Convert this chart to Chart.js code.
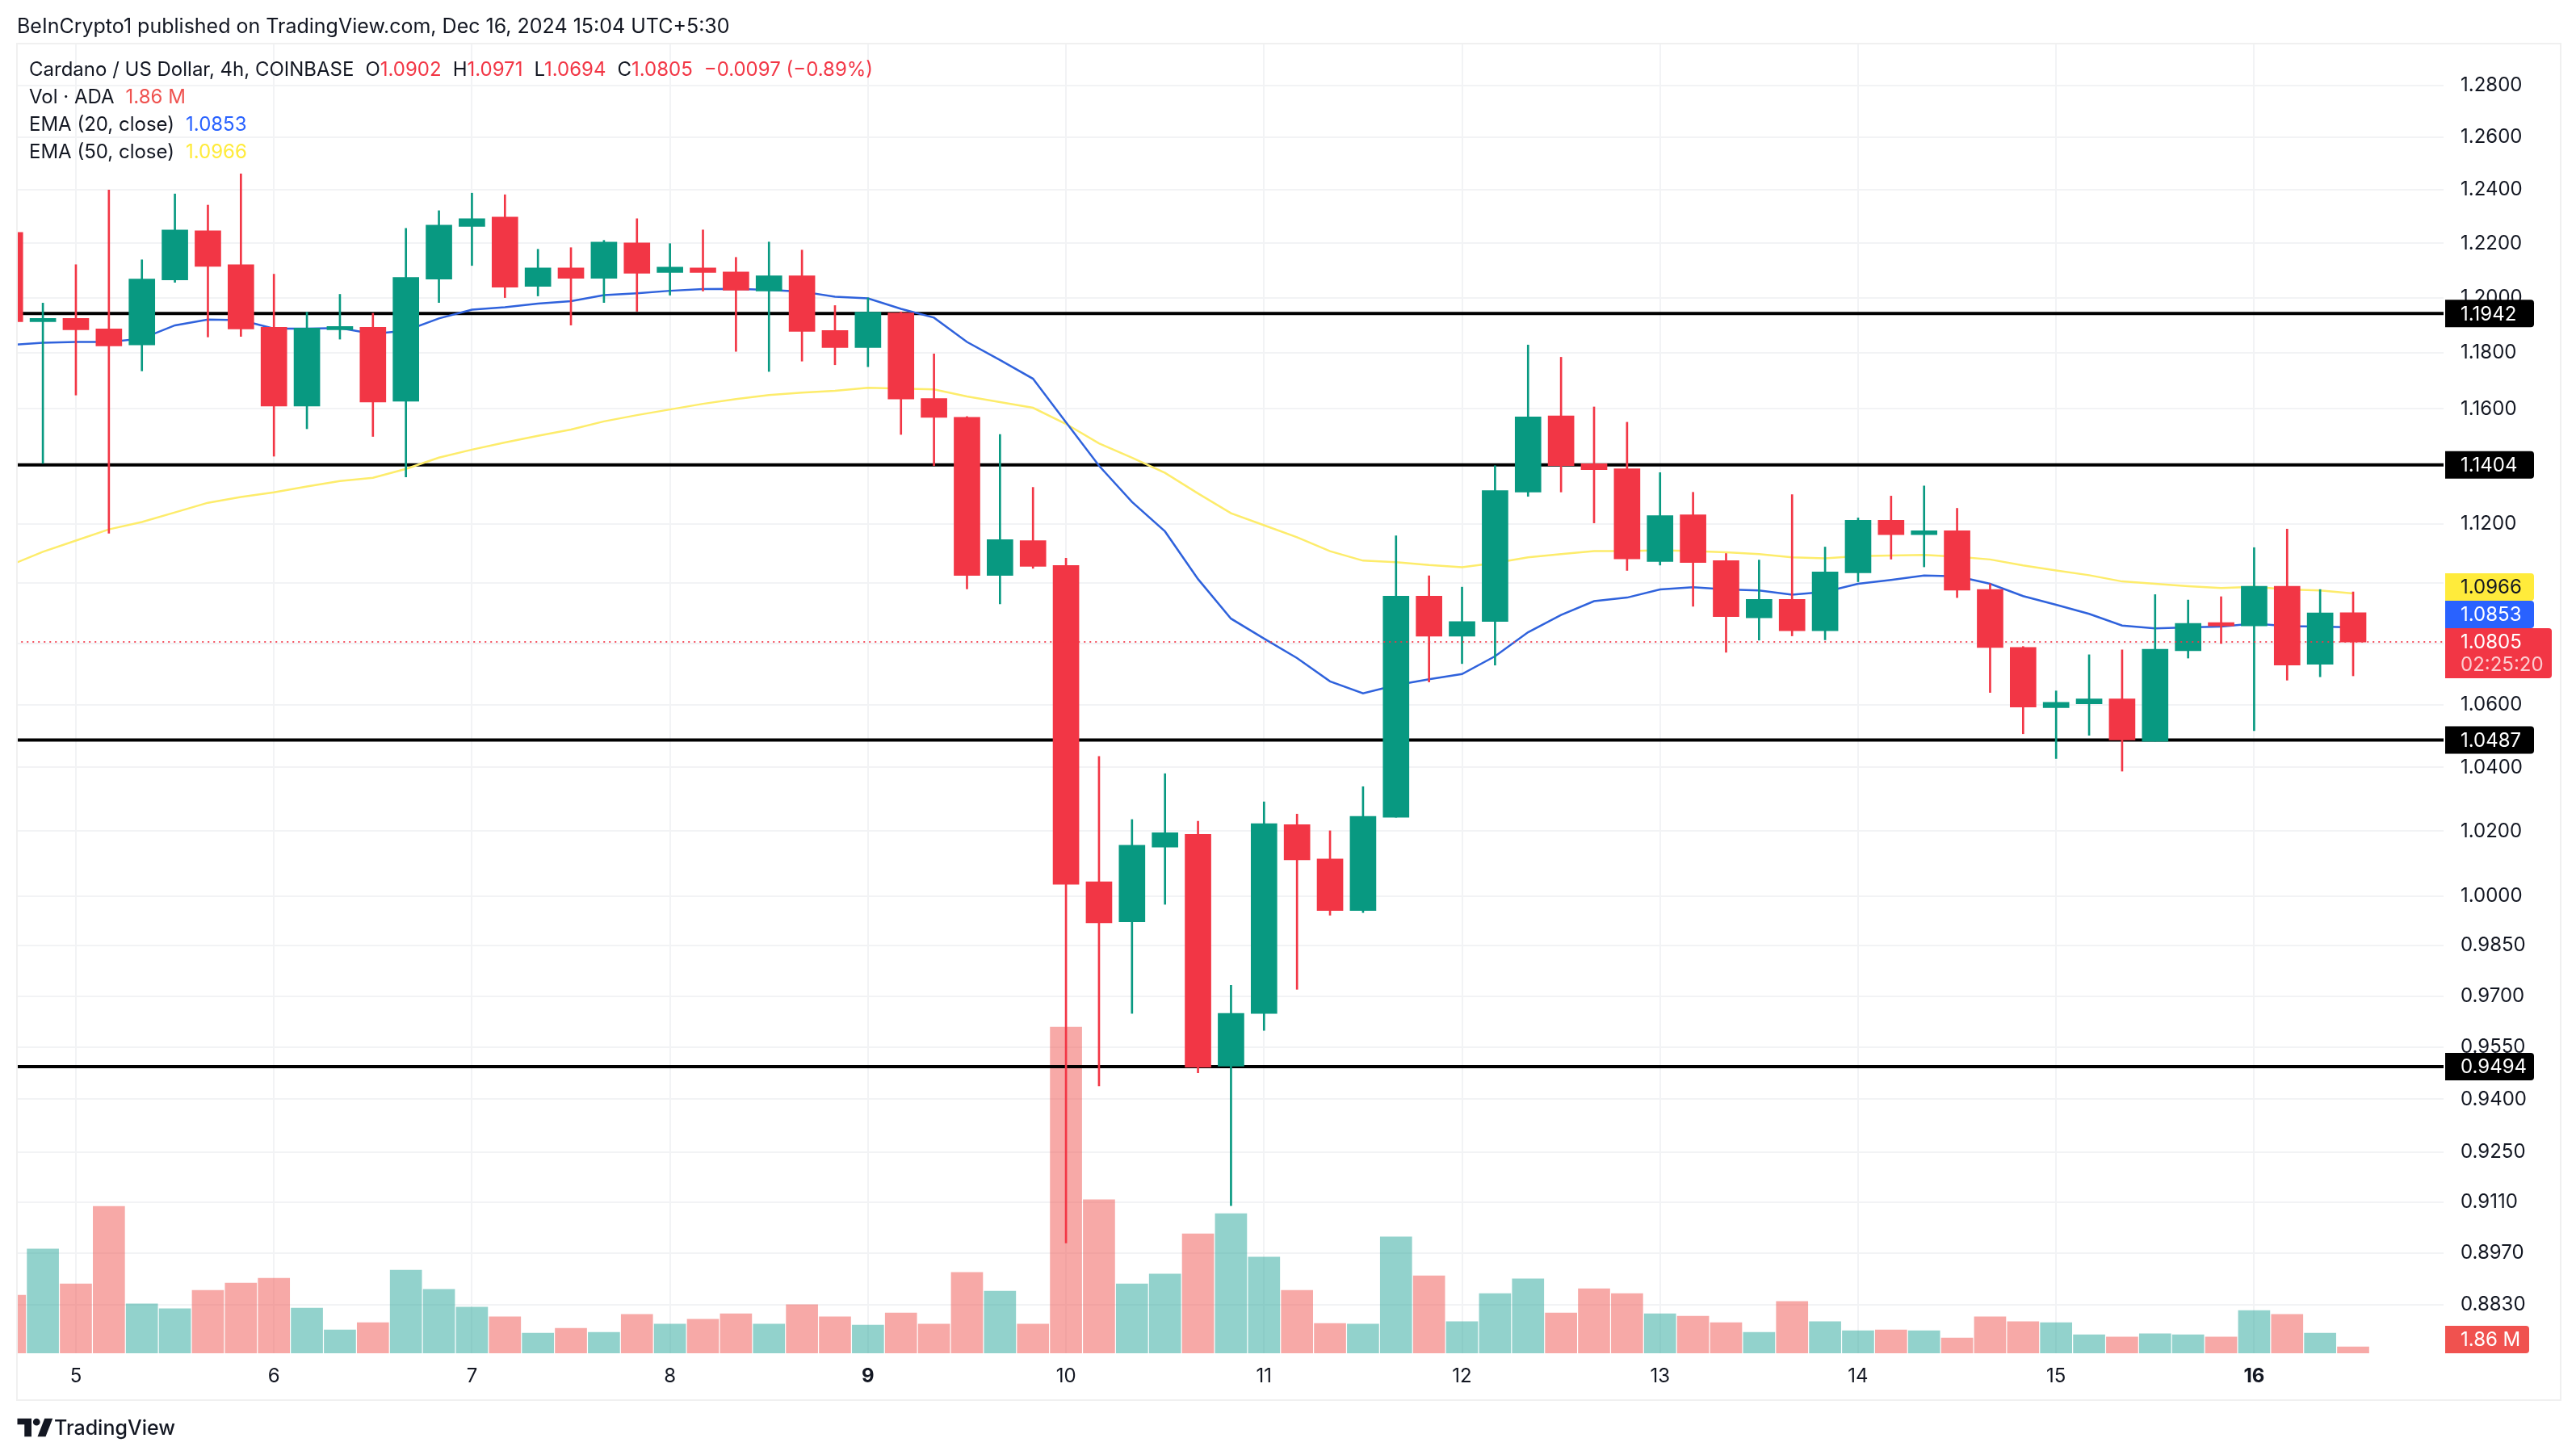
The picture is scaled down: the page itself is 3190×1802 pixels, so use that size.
<!DOCTYPE html>
<html>
<head>
<meta charset="utf-8">
<title>Cardano / US Dollar</title>
<script src="https://cdn.jsdelivr.net/npm/chart.js@4"></script>
<style>
  html, body { margin: 0; padding: 0; background: #fff; }
  body { width: 3190px; height: 1802px; position: relative; overflow: hidden; font-family: Inter, sans-serif; color: #131722; }
  canvas { position: absolute; left: 0; top: 0; }
  .frame { position: absolute; left: 20px; top: 53px; width: 3148px; height: 1678px; border: 2px solid #f0f0f0; pointer-events: none; }
  .line { position: absolute; white-space: nowrap; font-size: 24px; line-height: 34px; }
  .line span { margin-left: 14px; }
  .line span.tight { margin-left: 0; }
  .red { color: #f23645; }
  .vol { color: #ef5350; }
  .blue { color: #2962ff; }
  .yellow { color: #ffeb3b; }
  .logo { position: absolute; left: 21px; top: 1753px; }
</style>
</head>
<body>
<canvas id="chart" width="3190" height="1802"></canvas>
<div class="frame"></div>
<div class="line" style="left:21px;top:15px;font-size:25px">BeInCrypto1 published on TradingView.com, Dec 16, 2024 15:04 UTC+5:30</div>
<div class="line" style="left:36px;top:69px">Cardano / US Dollar, 4h, COINBASE<span>O</span><span class="red tight">1.0902</span><span>H</span><span class="red tight">1.0971</span><span>L</span><span class="red tight">1.0694</span><span>C</span><span class="red tight">1.0805</span><span class="red">−0.0097 (−0.89%)</span></div>
<div class="line" style="left:36px;top:103px">Vol · ADA<span class="vol">1.86 M</span></div>
<div class="line" style="left:36px;top:137px">EMA (20, close)<span class="blue">1.0853</span></div>
<div class="line" style="left:36px;top:171px">EMA (50, close)<span class="yellow">1.0966</span></div>
<svg class="logo" width="46" height="30" viewBox="0 0 36 24"><path fill="#131722" d="M14 3H0v6h7v12h7V3Zm14 18h-8l7-18h8l-7 18Zm-9-11a3.5 3.5 0 1 0 0-7 3.5 3.5 0 0 0 0 7Z"/></svg>
<div class="line" style="left:67px;top:1751px;font-size:25px;font-weight:500">TradingView</div>
<script>
// candles run from two bars before Dec 5 up to the open one, 6 bars a day
const firstCandle = -2
const dayLabels = ["5", "6", "7", "8", "9", "10", "11", "12", "13", "14", "15", "16"]
const boldDays = ["9", "16"]
const barsPerDay = 6

const priceTicks = [1.28, 1.26, 1.24, 1.22, 1.2, 1.18, 1.16, 1.14, 1.12, 1.1, 1.08, 1.06, 1.04, 1.02, 1.0, 0.985, 0.97, 0.955, 0.94, 0.925, 0.911, 0.897, 0.883]
// these sit under a price tag in the original
const hiddenTicks = [1.14, 1.1, 1.08]

const opens = [1.2241, 1.1912, 1.1924, 1.1886, 1.1828, 1.2065, 1.2247, 1.2121, 1.1892, 1.161, 1.1883, 1.1892, 1.1627, 1.2068, 1.2263, 1.2298, 1.2041, 1.2109, 1.2071, 1.2202, 1.2092, 1.2109, 1.2094, 1.2024, 1.208, 1.188, 1.1819, 1.1944, 1.1637, 1.157, 1.1026, 1.1144, 1.106, 1.0044, 0.9922, 1.015, 1.019, 0.9495, 0.9649, 1.022, 1.0114, 0.9956, 1.0243, 1.0957, 1.0824, 1.0873, 1.131, 1.1575, 1.1408, 1.139, 1.1073, 1.1232, 1.1076, 1.0885, 1.0946, 1.0842, 1.1035, 1.1213, 1.1164, 1.1177, 1.0979, 1.0787, 1.0591, 1.0603, 1.0619, 1.0483, 1.0776, 1.0869, 1.0858, 1.099, 1.0732, 1.0902]
const highs = [1.2241, 1.198, 1.2121, 1.24, 1.2139, 1.2385, 1.2343, 1.2461, 1.2086, 1.1947, 1.2012, 1.1943, 1.2256, 1.2322, 1.2388, 1.2382, 1.2178, 1.2184, 1.2211, 1.2292, 1.2199, 1.225, 1.2148, 1.2205, 1.2175, 1.1971, 1.1999, 1.1948, 1.1796, 1.1573, 1.151, 1.1326, 1.1084, 1.0435, 1.0236, 1.038, 1.0231, 0.9732, 1.0291, 1.0253, 1.0201, 1.0339, 1.116, 1.1025, 1.0987, 1.1401, 1.1828, 1.1784, 1.1607, 1.1553, 1.1377, 1.1309, 1.11, 1.1078, 1.1301, 1.1122, 1.1221, 1.1296, 1.1331, 1.1254, 1.0998, 1.079, 1.0645, 1.0763, 1.0779, 1.0962, 1.0944, 1.0955, 1.112, 1.1183, 1.0979, 1.0971]
const lows = [1.1912, 1.1409, 1.1649, 1.1169, 1.1735, 1.2056, 1.1857, 1.1859, 1.1434, 1.153, 1.1849, 1.1503, 1.1362, 1.1982, 1.2118, 1.2, 1.2006, 1.19, 1.1982, 1.195, 1.2009, 1.2024, 1.1805, 1.1733, 1.177, 1.1757, 1.175, 1.151, 1.1401, 1.0981, 1.0931, 1.105, 0.8997, 0.9438, 0.9649, 0.9975, 0.9476, 0.91, 0.9599, 0.972, 0.9942, 0.995, 1.0243, 1.0674, 1.0734, 1.0729, 1.1295, 1.131, 1.1204, 1.1043, 1.1061, 1.0923, 1.0771, 1.0811, 1.0825, 1.0812, 1.1005, 1.1081, 1.1055, 1.0952, 1.064, 1.0507, 1.0428, 1.0502, 1.0388, 1.0483, 1.0752, 1.08, 1.0517, 1.068, 1.0691, 1.0694]
const closes = [1.1912, 1.1924, 1.1883, 1.1825, 1.2068, 1.225, 1.2115, 1.1886, 1.161, 1.1889, 1.1895, 1.1624, 1.2074, 1.2268, 1.2292, 1.2038, 1.2109, 1.2071, 1.2205, 1.2089, 1.2112, 1.2092, 1.2027, 1.208, 1.1877, 1.1819, 1.1947, 1.1635, 1.157, 1.1026, 1.1147, 1.1057, 1.0036, 0.9919, 1.0156, 1.0195, 0.9492, 0.9649, 1.0223, 1.0111, 0.9956, 1.0246, 1.0957, 1.0824, 1.0872, 1.1315, 1.1572, 1.1401, 1.1387, 1.1082, 1.1229, 1.107, 1.0889, 1.0946, 1.0842, 1.1038, 1.1213, 1.1164, 1.1177, 1.0977, 1.0787, 1.0593, 1.0608, 1.0619, 1.0487, 1.0781, 1.0866, 1.0858, 1.099, 1.0729, 1.0901, 1.0805]
// millions of ADA
const volumes = [16.7, 30, 20, 42.3, 14.2, 12.8, 18.1, 20.2, 21.6, 13, 6.7, 8.8, 23.9, 18.4, 13.3, 10.5, 5.8, 7.2, 6, 11.2, 8.4, 9.8, 11.4, 8.4, 14, 10.5, 8.1, 11.6, 8.4, 23.3, 17.9, 8.4, 93.9, 44.2, 20, 22.8, 34.4, 40.2, 27.7, 18.1, 8.6, 8.4, 33.5, 22.3, 9.1, 17.2, 21.4, 11.6, 18.6, 17.2, 11.4, 10.7, 8.8, 6, 14.9, 9.1, 6.5, 6.7, 6.5, 4.4, 10.5, 9.1, 8.8, 5.3, 4.7, 5.6, 5.3, 4.7, 12.3, 11.2, 5.8, 1.86]
const ema20 = [1.1828, 1.1836, 1.1839, 1.1839, 1.1851, 1.1899, 1.192, 1.1918, 1.1887, 1.1887, 1.1889, 1.1868, 1.188, 1.1924, 1.1956, 1.1965, 1.1978, 1.1987, 1.2009, 1.2016, 1.2025, 1.2031, 1.2032, 1.2028, 1.2022, 1.2003, 1.1997, 1.1959, 1.1927, 1.1839, 1.1774, 1.1707, 1.1553, 1.1401, 1.1276, 1.1175, 1.1014, 1.0882, 1.0816, 1.0752, 1.0676, 1.0637, 1.0664, 1.0683, 1.07, 1.0758, 1.0837, 1.0894, 1.094, 1.0952, 1.0979, 1.0987, 1.0979, 1.0976, 1.0962, 1.0971, 1.0998, 1.1011, 1.1026, 1.1023, 1.0998, 1.0957, 1.0928, 1.0898, 1.0859, 1.085, 1.0853, 1.0856, 1.0866, 1.0857, 1.0856, 1.0853]
const ema50 = [1.106, 1.1106, 1.1144, 1.1182, 1.1207, 1.124, 1.1273, 1.1293, 1.1309, 1.1329, 1.1348, 1.1359, 1.139, 1.1429, 1.1457, 1.1482, 1.1505, 1.1527, 1.1556, 1.1578, 1.1598, 1.1618, 1.1635, 1.1649, 1.1658, 1.1664, 1.1675, 1.1672, 1.1669, 1.1644, 1.1624, 1.1604, 1.1547, 1.1479, 1.1429, 1.1376, 1.1305, 1.1237, 1.1196, 1.1155, 1.1108, 1.1076, 1.1071, 1.1061, 1.1054, 1.1068, 1.1087, 1.1098, 1.1108, 1.1108, 1.1111, 1.1108, 1.1104, 1.1098, 1.1087, 1.1084, 1.1091, 1.1093, 1.1095, 1.1089, 1.108, 1.106, 1.1043, 1.1027, 1.1006, 1.0998, 1.099, 1.0984, 1.0988, 1.0979, 1.0976, 1.0966]
const supportLevels = [1.1942, 1.1404, 1.0487, 0.9494]
const lastPrice = 1.0805

const upColor = "#089981"
const downColor = "#f23645"
const upVolume = "rgba(38,166,154,0.5)"
const downVolume = "rgba(239,83,80,0.5)"
const gridColor = "#f2f3f5"
const font = "Inter, sans-serif"

const xs = opens.map((_, i) => firstCandle + i)
const isUp = i => closes[i] >= opens[i]
const barColors = xs.map((_, i) => (isUp(i) ? upColor : downColor))
const volColors = xs.map((_, i) => (isUp(i) ? upVolume : downVolume))
const dayTicks = dayLabels.map((_, i) => i * barsPerDay)

// price tags on the right axis
const tagLeft = 3028
const tagHeight = 34
const tagPlugin = {
  id: "priceTags",
  afterDraw(chart) {
    const { ctx } = chart
    const y = chart.scales.y
    const tag = (top, width, height, color) => {
      ctx.fillStyle = color
      ctx.beginPath()
      ctx.roundRect(tagLeft, top, width, height, [0, 4, 4, 0])
      ctx.fill()
    }
    const label = (text, centerY, color) => {
      ctx.fillStyle = color
      ctx.font = "24px " + font
      ctx.textAlign = "left"
      ctx.textBaseline = "middle"
      ctx.fillText(text, tagLeft + 19, centerY)
    }
    supportLevels.forEach(level => {
      const py = y.getPixelForValue(level)
      tag(py - tagHeight / 2, 110, tagHeight, "#000")
      label(level.toFixed(4), py + 1, "#fff")
    })
    // last price, with the two EMA tags stacked on top of it
    const py = y.getPixelForValue(lastPrice)
    const top = py - tagHeight / 2
    tag(top, 132, 62, downColor)
    label(lastPrice.toFixed(4), py + 1, "#fff")
    label("02:25:20", py + 29, "rgba(255,255,255,0.75)")
    tag(top - tagHeight, 110, tagHeight, "#2962ff")
    label(ema20[ema20.length - 1].toFixed(4), top - tagHeight / 2 + 1, "#fff")
    tag(top - tagHeight * 2, 110, tagHeight, "#ffeb3b")
    label(ema50[ema50.length - 1].toFixed(4), top - tagHeight * 1.5 + 1, "#131722")
    // volume tag sits on the volume baseline
    const vy = chart.scales.vol.getPixelForValue(0)
    tag(vy - tagHeight, 104, tagHeight, "#f0524f")
    label("1.86 M", vy - tagHeight / 2 + 1, "#fff")
  },
}

const levelDatasets = supportLevels.map(level => ({
  type: "line",
  data: [{ x: firstCandle, y: level }, { x: 72, y: level }],
  borderColor: "#000",
  borderWidth: 4,
  pointRadius: 0,
  order: 5,
}))

new Chart(document.getElementById("chart"), {
  data: {
    datasets: [
      {
        type: "bar",
        yAxisID: "vol",
        data: xs.map((x, i) => ({ x, y: volumes[i] })),
        backgroundColor: volColors,
        barThickness: 39,
        grouped: false,
        order: 6,
      },
      ...levelDatasets,
      {
        type: "line",
        data: xs.map((x, i) => ({ x, y: ema50[i] })),
        borderColor: "#fdec6b",
        borderWidth: 2.5,
        pointRadius: 0,
        order: 4,
      },
      {
        type: "line",
        data: xs.map((x, i) => ({ x, y: ema20[i] })),
        borderColor: "#2f62dc",
        borderWidth: 2.5,
        pointRadius: 0,
        order: 3,
      },
      {
        // wicks
        type: "bar",
        data: xs.map((x, i) => ({ x, y: [lows[i], highs[i]] })),
        backgroundColor: barColors,
        barThickness: 2,
        grouped: false,
        order: 2,
      },
      {
        // bodies
        type: "bar",
        data: xs.map((x, i) => ({ x, y: [opens[i], closes[i]] })),
        backgroundColor: barColors,
        barThickness: 32,
        grouped: false,
        order: 1,
      },
      {
        type: "line",
        data: [{ x: firstCandle, y: lastPrice }, { x: 72, y: lastPrice }],
        borderColor: "rgba(242,54,69,0.85)",
        borderWidth: 2,
        borderDash: [2, 5],
        pointRadius: 0,
        order: 0,
      },
    ],
  },
  options: {
    responsive: false,
    devicePixelRatio: 1,
    animation: false,
    layout: { padding: { left: 20, top: 53, right: 0, bottom: 0 } },
    plugins: {
      legend: { display: false },
      tooltip: { enabled: false },
    },
    scales: {
      x: {
        type: "linear",
        min: -1.81,
        max: 71.74,
        offset: false,
        border: { display: false },
        grid: { color: gridColor, lineWidth: 2, drawTicks: false, offset: false },
        afterBuildTicks: scale => {
          scale.ticks = dayTicks.map(value => ({ value }))
        },
        afterFit: scale => {
          scale.height = 126
        },
        ticks: {
          autoSkip: false,
          maxRotation: 0,
          padding: 14,
          color: "#131722",
          callback: value => dayLabels[value / barsPerDay],
          font: ctx => ({
            family: font,
            size: 24,
            weight: boldDays.includes(dayLabels[ctx.index]) ? "700" : "400",
          }),
        },
      },
      y: {
        type: "logarithmic",
        position: "right",
        min: 0.87275,
        max: 1.29686,
        border: { display: false },
        grid: { color: gridColor, lineWidth: 2, drawTicks: false },
        afterBuildTicks: scale => {
          scale.ticks = priceTicks.map(value => ({ value }))
        },
        afterFit: scale => {
          scale.width = 164
        },
        ticks: {
          autoSkip: false,
          padding: 21,
          color: "#131722",
          font: { family: font, size: 24 },
          callback: value => (hiddenTicks.includes(value) ? "" : value.toFixed(4)),
        },
      },
      vol: {
        type: "linear",
        display: false,
        min: 0,
        max: 377.3,
      },
    },
  },
  plugins: [tagPlugin],
})
</script>
</body>
</html>
